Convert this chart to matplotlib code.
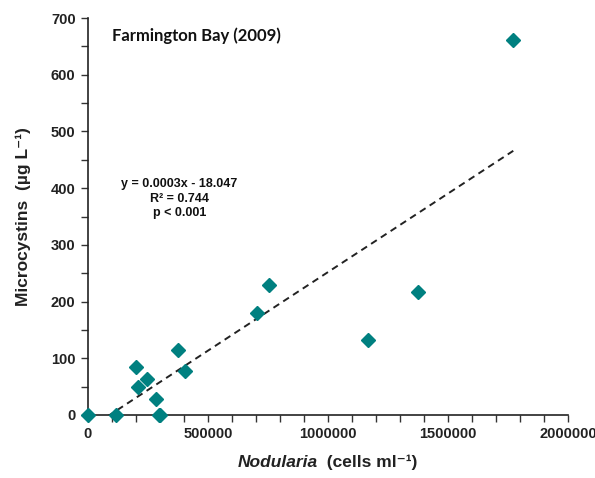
import matplotlib
matplotlib.use('Agg')
import matplotlib.pyplot as plt
import numpy as np
from matplotlib.ticker import MultipleLocator, FuncFormatter

# data
nodularia = [0, 116667, 295000, 300000, 282000, 209600, 244500, 200000,
             376000, 404000, 705000, 755000, 1168000, 1374000, 1772000]
microcystins = [0, 0, 0, 0, 28, 50, 63, 84,
                114, 78, 180, 230, 132, 216, 661]

# trendline as drawn on the chart
slope = 0.000277
intercept = -25.0

teal = '#008080'
fam = ['Liberation Sans', 'DejaVu Sans']

fig = plt.figure(figsize=(5.95, 4.78), dpi=100)
ax = fig.add_axes((88/595, 63/478, 480/595, 397/478))

xs = np.array([0, max(nodularia)])
ax.plot(xs, slope*xs + intercept, ls=(0, (3.5, 2.5)), color='#222222', lw=1.4, zorder=2)
ax.plot(nodularia, microcystins, 'D', color=teal, ms=7, mec=teal, clip_on=False, zorder=3)

ax.set_xlim(0, 2000000)
ax.set_ylim(0, 700)
ax.xaxis.set_major_locator(MultipleLocator(500000))
ax.xaxis.set_minor_locator(MultipleLocator(100000))
ax.yaxis.set_major_locator(MultipleLocator(100))
ax.yaxis.set_minor_locator(MultipleLocator(50))
ax.xaxis.set_major_formatter(FuncFormatter(lambda v, p: '%d' % v))
ax.yaxis.set_major_formatter(FuncFormatter(lambda v, p: '%d' % v))
ax.spines['top'].set_visible(False)
ax.spines['right'].set_visible(False)
for s in ['left', 'bottom']:
    ax.spines[s].set_linewidth(1.2)
    ax.spines[s].set_color('#222222')
ax.tick_params(which='both', direction='out', length=5, width=1, color='#333333')
ax.tick_params(axis='both', labelsize=10.5, pad=4)
for lab in ax.get_xticklabels() + ax.get_yticklabels():
    lab.set_fontweight('bold')
    lab.set_family(fam)
    lab.set_color('#222222')

ax.set_ylabel('Microcystins  (\u00b5g L\u207b\u00b9)', fontsize=12.5, fontweight='bold',
              family=fam, labelpad=14, color='#222222')

# x label in two parts: italic genus + units
fig.text(0.5335, 0.022, 'Nodularia', ha='right', va='baseline', fontsize=12.5,
         fontweight='bold', style='italic', family=fam, color='#222222')
fig.text(0.5335, 0.022, '  (cells ml\u207b\u00b9)', ha='left', va='baseline', fontsize=12.5,
         fontweight='bold', family=fam, color='#222222')

ax.text(0.05, 0.955, 'Farmington Bay (2009)', transform=ax.transAxes, ha='left', va='center',
        fontsize=12, fontweight='bold', family=['Lato', 'DejaVu Sans'], color='#111111')

ax.text(0.19, 0.545, 'y = 0.0003x - 18.047\nR\u00b2 = 0.744\np < 0.001', transform=ax.transAxes,
        ha='center', va='center', fontsize=9, fontweight='bold', family=fam,
        linespacing=1.25, color='#111111')

fig.savefig('out.png', dpi=100)
